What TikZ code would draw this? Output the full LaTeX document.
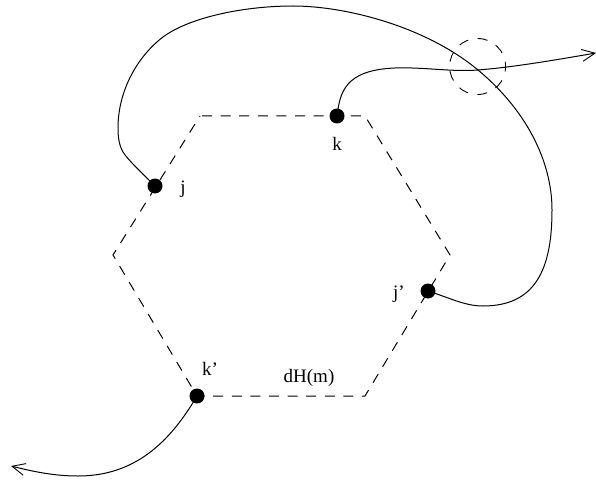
\documentclass[tikz,border=0pt]{standalone}
\usepackage{fontspec}
\setmainfont{Liberation Serif}
\usetikzlibrary{arrows.meta}
\tikzset{
  x=1pt,y=-1pt,
  dot/.style={circle,fill=black,inner sep=0pt,minimum size=15pt},
  hexedge/.style={line width=1pt,dash pattern=on 10pt off 8.6pt,dash phase=16.6pt},
  ringedge/.style={line width=0.9pt,dash pattern=on 10pt off 9.55pt,dash phase=5pt},
  curve/.style={line width=1pt},
  lbl/.style={font=\fontsize{19}{21}\selectfont,inner sep=0pt,anchor=base},
  tip/.style={-{Straight Barb[length=13pt,width=12pt,line width=0.9pt]}}
}
\begin{document}
\begin{tikzpicture}
\useasboundingbox (0,0) rectangle (596,481);
\coordinate (h1) at (200,116);
\coordinate (h2) at (365,116);
\coordinate (h3) at (450,255);
\coordinate (h4) at (365,396);
\coordinate (h5) at (197,396);
\coordinate (h6) at (113,255);
\draw[hexedge] (h1) -- (h2) -- (h3) -- (h4) -- (h5) -- (h6) -- cycle;
\node[dot] (j) at (155,186) {};
\node[dot] (k) at (337,116) {};
\node[dot] (jp) at (428,291) {};
\node[dot] (kp) at (197,396) {};
\node[lbl] (lj) at (183,193) {j};
\node[lbl] (lk) at (337,151) {k};
\node[lbl] (ljp) at (399,298) {j'};
\node[lbl] (lkp) at (210,375) {k'};
\node[lbl] (ld) at (309,382) {dH(m)};
\coordinate (arrR) at (596,53);
\coordinate (arrL) at (11,466);
\coordinate (cc) at (477.6,66.5);
\draw[ringedge] (cc) circle (28);
\draw[curve] (j.center) .. controls (140,171) and (128,160) .. (123,152)
  .. controls (119,145) and (118,137) .. (118,128)
  .. controls (118,90) and (138,56) .. (163,37)
  .. controls (190,17) and (245,6) .. (293,6)
  .. controls (345,6) and (425,26) .. (478,70)
  .. controls (525,109) and (552,160) .. (552,210)
  .. controls (552,270) and (535,306) .. (483,306)
  .. controls (465,306) and (450,298) .. (jp.center);
\draw[curve,tip] (k.center) .. controls (340,92) and (345,70) .. (395,68)
  .. controls (425,67) and (450,72) .. (478,70)
  .. controls (515,67) and (555,60) .. (arrR);
\draw[curve,tip] (kp.center) .. controls (170,442) and (135,476) .. (78,476)
  .. controls (55,476) and (35,472) .. (arrL);
\end{tikzpicture}
\end{document}
